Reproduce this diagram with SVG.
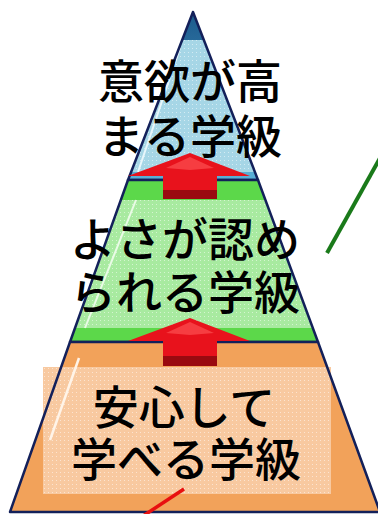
<svg xmlns="http://www.w3.org/2000/svg" width="378" height="514" viewBox="0 0 378 514">
<style>
.outline{stroke:#13205a;stroke-width:2.5;stroke-linejoin:round}
.lbl{font-family:"Noto Sans CJK JP","Noto Sans",sans-serif;font-size:46px;font-weight:500;fill:#000;text-anchor:middle}
.arrow{fill:#e8121c}
.shade{fill:#9a0a10}
</style>
<defs>
<linearGradient id="tipg" x1="0" y1="0" x2="0" y2="1">
<stop offset="0" stop-color="#1c5a8c"/>
<stop offset="1" stop-color="#5ab0d8"/>
</linearGradient>
<pattern id="dots" width="4" height="4" patternUnits="userSpaceOnUse">
<rect x="0" y="0" width="1" height="1" fill="#ffffff" fill-opacity="0.5"/>
</pattern>
<clipPath id="blueClip"><polygon points="193,12 128,180 258,180"/></clipPath>
<clipPath id="greenClip"><polygon points="128,180 258,180 318,342 70,342"/></clipPath>
</defs>

<g id="layer-top">
<polygon points="193,12 128,180 258,180" fill="url(#tipg)"/>
<g clip-path="url(#blueClip)">
<rect x="100" y="40" width="200" height="132" fill="#a6d6e6"/>
<rect x="100" y="40" width="200" height="132" fill="url(#dots)"/>
</g>
<line x1="180" y1="48" x2="138" y2="172" stroke="#e8f6fb" stroke-width="2"/>
<polygon class="outline" points="193,12 128,180 258,180" fill="none"/>
<text class="lbl" x="190" y="98">意欲が高</text>
<text class="lbl" x="190" y="153">まる学級</text>
</g>

<g id="layer-middle">
<polygon points="128,180 258,180 318,342 70,342" fill="#5cd84a"/>
<g clip-path="url(#greenClip)">
<rect x="60" y="200" width="270" height="128" fill="#a8eaa0"/>
<rect x="60" y="200" width="270" height="128" fill="url(#dots)"/>
</g>
<line x1="136" y1="200" x2="85" y2="328" stroke="#eafbe6" stroke-width="2"/>
<polygon class="outline" points="128,180 258,180 318,342 70,342" fill="none"/>
<text class="lbl" x="185" y="256">よさが認め</text>
<text class="lbl" x="185" y="309">られる学級</text>
</g>

<g id="layer-bottom">
<polygon points="70,342 318,342 380,512 10,512" fill="#f2a25a"/>
<rect x="43" y="367" width="288" height="127" fill="#f8c9a0"/>
<rect x="43" y="367" width="288" height="127" fill="url(#dots)"/>
<line x1="79" y1="358" x2="50" y2="440" stroke="#fff4e8" stroke-width="2.5"/>
<polygon class="outline" points="70,342 318,342 380,512 10,512" fill="none"/>
<text class="lbl" x="184" y="424">安心して</text>
<text class="lbl" x="186" y="476">学べる学級</text>
</g>

<g id="arrow-upper">
<polygon class="arrow" points="190,153 250,176 217,176 217,199 163,199 163,176 128,176"/>
<polygon class="shade" points="163,190 217,190 217,199 163,199"/>
<polygon fill="#ff5a5a" opacity="0.6" points="190,157 214,168 190,170 166,168"/>
</g>

<g id="arrow-lower">
<polygon class="arrow" points="190,318 250,341 217,341 217,366 163,366 163,341 128,341"/>
<polygon class="shade" points="163,356 217,356 217,366 163,366"/>
<polygon fill="#ff5a5a" opacity="0.6" points="190,322 214,333 190,335 166,333"/>
</g>

<g id="connectors">
<line x1="327" y1="253" x2="380" y2="158" stroke="#1a7a1a" stroke-width="4"/>
<line x1="184" y1="489" x2="143" y2="516" stroke="#e81010" stroke-width="3.5"/>
</g>
</svg>
